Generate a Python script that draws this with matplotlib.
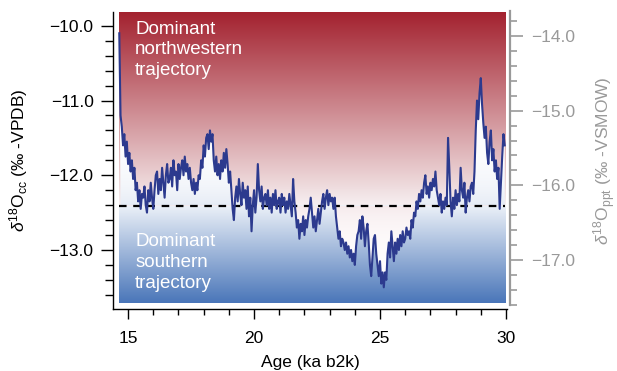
import numpy as np
import matplotlib
matplotlib.use("Agg")
import matplotlib.pyplot as plt
from matplotlib.ticker import MultipleLocator
from matplotlib.path import Path

plt.rcParams['font.family'] = ['Liberation Sans', 'DejaVu Sans']
plt.rcParams['mathtext.fontset'] = 'custom'
plt.rcParams['mathtext.rm'] = 'Liberation Sans'
plt.rcParams['mathtext.it'] = 'Liberation Sans:italic'

# ---- data ----
age_start = 14.65
age_step = 0.05
d18O_cc = [
    -10.1, -11.2, -11.35, -11.6, -11.45, -11.75, -11.55, -11.85, -11.7, -11.95,
    -11.8, -12.05, -11.9, -12.2, -12.1, -12.35, -12.2, -12.45, -12.25, -12.3,
    -12.15, -12.4, -12.5, -12.2, -12.35, -12.1, -12.3, -12.45, -12.2, -12.0,
    -11.95, -12.25, -12.05, -12.2, -11.9, -12.1, -12.3, -12.0, -11.85, -12.1,
    -12.05, -11.9, -12.15, -11.8, -12.0, -11.95, -12.2, -11.85, -12.05, -11.9,
    -11.8, -12.0, -11.75, -11.95, -11.85, -12.05, -11.9, -12.1, -12.2, -12.05,
    -12.25, -12.1, -12.2, -12.0, -12.05, -11.8, -11.9, -11.6, -11.75, -11.5,
    -11.45, -11.65, -11.4, -11.55, -11.45, -11.8, -11.95, -11.75, -12.0, -11.85,
    -12.05, -11.8, -11.95, -11.7, -11.9, -11.65, -11.85, -12.1, -11.95, -12.2,
    -12.45, -12.6, -12.3, -12.15, -12.35, -12.05, -12.25, -12.4, -12.1, -12.3,
    -12.2, -12.45, -12.15, -12.55, -12.3, -12.75, -12.4, -12.2, -12.5, -12.3,
    -11.85, -12.2, -12.35, -12.15, -12.45, -12.3, -12.25, -12.4, -12.2, -12.45,
    -12.3, -12.5, -12.25, -12.4, -12.2, -12.45, -12.35, -12.3, -12.5, -12.25,
    -12.4, -12.3, -12.5, -12.35, -12.45, -12.25, -12.4, -12.55, -12.05, -12.35,
    -12.5, -12.7, -12.6, -12.85, -12.65, -12.75, -12.55, -12.8, -12.6, -12.7,
    -12.55, -12.45, -12.3, -12.5, -12.7, -12.55, -12.75, -12.6, -12.45, -12.65,
    -12.5, -12.35, -12.25, -12.45, -12.3, -12.2, -12.4, -12.25, -12.35, -12.3,
    -12.45, -12.3, -12.55, -12.7, -12.85, -12.75, -12.95, -12.85, -12.9, -13.0,
    -12.9, -13.05, -12.95, -13.1, -13.0, -13.15, -13.05, -13.2, -12.95, -12.8,
    -12.75, -12.6, -12.85, -12.55, -12.7, -12.95, -12.75, -12.65, -12.9, -13.2,
    -13.35, -13.1, -12.85, -12.8, -13.05, -13.2, -13.35, -13.15, -13.45, -13.3,
    -13.5, -13.3, -13.4, -13.05, -12.9, -13.1, -12.75, -12.95, -13.15, -12.9,
    -13.05, -12.85, -13.0, -12.8, -12.95, -12.75, -12.9, -12.85, -12.7, -12.8,
    -12.75, -12.85, -12.6, -12.7, -12.5, -12.55, -12.35, -12.45, -12.25, -12.35,
    -12.2, -12.3, -12.1, -12.0, -12.25, -12.15, -12.3, -12.1, -12.2, -12.05,
    -12.15, -11.95, -12.2, -12.3, -12.4, -12.25, -12.5, -12.35, -12.45, -12.3,
    -12.4, -11.5, -11.9, -12.35, -12.55, -12.3, -12.45, -12.2, -12.4, -12.25,
    -12.35, -11.9, -12.2, -12.3, -12.1, -12.5, -12.3, -12.2, -12.35, -12.15,
    -12.1, -12.25, -11.95, -11.4, -11.0, -11.25, -10.9, -10.7, -11.05, -11.3,
    -11.5, -11.35, -11.7, -11.85, -11.55, -11.4, -11.8, -11.65, -11.95, -11.8,
    -12.05, -11.9, -12.45, -12.1, -11.75, -11.45, -11.6,
]
age = age_start + age_step * np.arange(len(d18O_cc))
d18O_cc = np.array(d18O_cc)

threshold = -12.41          # dashed line
ppt_offset = -3.865         # right axis = left axis + offset

x_major = [15, 20, 25, 30]
yl_major = [-10.0, -11.0, -12.0, -13.0]
yr_major = [-14.0, -15.0, -16.0, -17.0]

# ---- figure ----
fig = plt.figure(figsize=(6.17, 3.71), dpi=100)
ax = fig.add_axes([0.1831, 0.1671, 0.8217 - 0.1831, 0.9677 - 0.1671])
xlim = (14.4, 30.04)
ylim = (-13.79, -9.815)
ax.set_xlim(*xlim)
ax.set_ylim(*ylim)

# background gradient
gx0, gx1 = 14.62, 29.96
gy0, gy1 = -13.71, ylim[1]
ny = 400
yy = np.linspace(gy1, gy0, ny)
top_c = np.array([163, 33, 46]) / 255
pale_r = np.array([247, 240, 241]) / 255
pale_b = np.array([236, 241, 248]) / 255
bot_c = np.array([74, 118, 185]) / 255
img = np.zeros((ny, 1, 3))
for i, v in enumerate(yy):
    if v >= threshold:
        t = (v - threshold) / (gy1 - threshold)
        img[i, 0] = pale_r + (top_c - pale_r) * t
    else:
        t = (threshold - v) / (threshold - gy0)
        img[i, 0] = pale_b + (bot_c - pale_b) * t
ax.imshow(img, extent=[gx0, gx1, gy0, gy1], aspect='auto', zorder=0,
          interpolation='bilinear')

# whitish fill between curve and threshold
img2 = np.zeros((ny, 1, 3))
lb = np.array([229, 235, 245]) / 255
lr = np.array([246, 234, 236]) / 255
for i, v in enumerate(yy):
    d = v - threshold
    if d >= 0:
        w = np.exp(-d / 0.35)
        img2[i, 0] = 1 + (lb - 1) * w
    else:
        w = np.exp(d / 0.35)
        img2[i, 0] = 1 + (lr - 1) * w
im2 = ax.imshow(img2, extent=[gx0, gx1, gy0, gy1], aspect='auto', zorder=1,
                interpolation='bilinear')
verts = np.concatenate([np.column_stack([age, d18O_cc]),
                        np.column_stack([age[::-1], np.full(len(age), threshold)])])
clip = Path(verts, closed=True)
im2.set_clip_path(clip, transform=ax.transData)

ax.plot([gx0, gx1], [threshold, threshold], color='black', lw=1.6,
        dashes=(3.4, 3.0), zorder=2)
ax.plot(age, d18O_cc, color='#2c3a8e', lw=1.5, zorder=3)

ax.text(15.28, -9.93, 'Dominant\nnorthwestern\ntrajectory', color='white',
        fontsize=13.5, va='top', ha='left', linespacing=1.3, zorder=4)
ax.text(15.28, -12.77, 'Dominant\nsouthern\ntrajectory', color='white',
        fontsize=13.5, va='top', ha='left', linespacing=1.3, zorder=4)

for s in ['top', 'right']:
    ax.spines[s].set_visible(False)
ax.spines['left'].set_linewidth(1.0)
ax.spines['bottom'].set_linewidth(1.0)
ax.set_xticks(x_major)
ax.set_xticklabels([str(v) for v in x_major])
ax.xaxis.set_minor_locator(MultipleLocator(1))
ax.set_yticks(yl_major)
ax.set_yticklabels([f'{v:.1f}'.replace('-', '\u2212') for v in yl_major])
ax.yaxis.set_minor_locator(MultipleLocator(0.2))
ax.tick_params(axis='x', which='major', direction='out', length=7.5,
               width=1.0, labelsize=12.5, pad=8)
ax.tick_params(axis='x', which='minor', direction='out', length=4.5, width=1.0)
ax.tick_params(axis='y', which='major', direction='out', length=9,
               width=1.0, labelsize=12.5, pad=5)
ax.tick_params(axis='y', which='minor', direction='out', length=6, width=1.0)
ax.set_xlabel('Age (ka b2k)', fontsize=12.5, labelpad=7)
ax.set_ylabel(r'$\delta^{18}$O$_{\mathrm{cc}}$ (‰ -VPDB)', fontsize=12.5,
              labelpad=14)

# right axis
gray = '#999999'
ax2 = ax.twinx()
ax2.set_ylim(ylim[0] + ppt_offset, ylim[1] + ppt_offset)
for s in ['top', 'left', 'bottom']:
    ax2.spines[s].set_visible(False)
ax2.spines['right'].set_position(('axes', 1.0076))
ax2.spines['right'].set_color(gray)
ax2.spines['right'].set_linewidth(1.6)
ax2.spines['right'].set_bounds(-17.6, -13.67)
ax2.set_yticks(yr_major)
ax2.set_yticklabels([f'{v:.1f}'.replace('-', '\u2212') for v in yr_major])
ax2.yaxis.set_minor_locator(MultipleLocator(0.2))
ax2.tick_params(axis='y', which='major', direction='out', length=9, width=1.2,
                colors=gray, labelsize=12.5, pad=6)
ax2.tick_params(axis='y', which='minor', direction='out', length=5, width=1.2,
                colors=gray)
ax2.set_ylabel(r'$\delta^{18}$O$_{\mathrm{ppt}}$ (‰ -VSMOW)', fontsize=12.5,
               color=gray, labelpad=12)

fig.savefig('out.png', dpi=100)
